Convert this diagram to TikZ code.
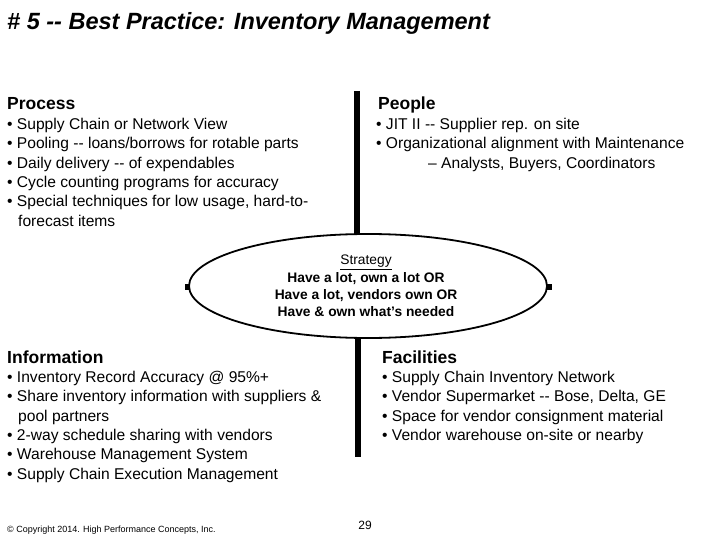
\documentclass[tikz,border=0pt]{standalone}
\usepackage{fontspec}
\setmainfont{Liberation Sans}
\usetikzlibrary{shapes.geometric}
\begin{document}
\begin{tikzpicture}[x=1pt,y=-1pt,
  head/.style={anchor=base west,inner sep=0pt,font=\fontsize{17.5}{19}\selectfont\bfseries},
  body/.style={anchor=north west,inner sep=0pt,align=left,font=\fontsize{15.6}{19.3}\selectfont},
  bar/.style={line width=6pt},
  tick/.style={fill=black,minimum size=6pt,inner sep=0pt}]
\useasboundingbox[fill=white] (0,0) rectangle (720,540);
\node[anchor=base west,inner sep=0pt,font=\fontsize{23.5}{26}\selectfont\bfseries\itshape] (title) at (7,30) {\# 5 -{}- Best Practice: Inventory Management};
\coordinate (t1) at (357,91); \coordinate (t2) at (357,240);
\coordinate (b1) at (358,330); \coordinate (b2) at (358,457);
\draw[bar] (t1) -- (t2);
\draw[bar] (b1) -- (b2);
\node[tick] (lt) at (188,287) {};
\node[tick] (rt) at (549,287) {};
\node[ellipse,draw,line width=1.8pt,fill=white,minimum width=358pt,minimum height=104pt,inner sep=0pt] (strat) at (368,286) {};
\node[anchor=north,inner sep=0pt,align=center,font=\fontsize{13.8}{17.3}\selectfont\bfseries] (st) at (366,255)
 {\underline{\mdseries Strategy}\\Have a lot, own a lot OR\\Have a lot, vendors own OR\\Have \& own what's needed};
\node[head] (proc) at (7,110) {Process};
\node[body] (proct) at (7,118) {• Supply Chain or Network View\\• Pooling -{}- loans/borrows for rotable parts\\• Daily delivery -{}- of expendables\\• Cycle counting programs for accuracy\\• Special techniques for low usage, hard-to-\\\hspace*{11pt}forecast items};
\node[head] (peop) at (378,110) {People};
\node[body] (peopt) at (376,118) {• JIT II -{}- Supplier rep. on site\\• Organizational alignment with Maintenance\\\hspace*{52pt}– Analysts, Buyers, Coordinators};
\node[head] (info) at (7,363) {Information};
\node[body] (infot) at (7,371) {• Inventory Record Accuracy @ 95\%+\\• Share inventory information with suppliers \&\\\hspace*{11pt}pool partners\\• 2-way schedule sharing with vendors\\• Warehouse Management System\\• Supply Chain Execution Management};
\node[head] (fac) at (382,363) {Facilities};
\node[body] (fact) at (382,371) {• Supply Chain Inventory Network\\• Vendor Supermarket -{}- Bose, Delta, GE\\• Space for vendor consignment material\\• Vendor warehouse on-site or nearby};
\node[anchor=base west,inner sep=0pt,font=\fontsize{9}{10}\selectfont] (copy) at (7,532) {© Copyright 2014. High Performance Concepts, Inc.};
\node[anchor=base,inner sep=0pt,font=\fontsize{12}{12}\selectfont] (pg) at (365,529) {29};
\end{tikzpicture}
\end{document}
